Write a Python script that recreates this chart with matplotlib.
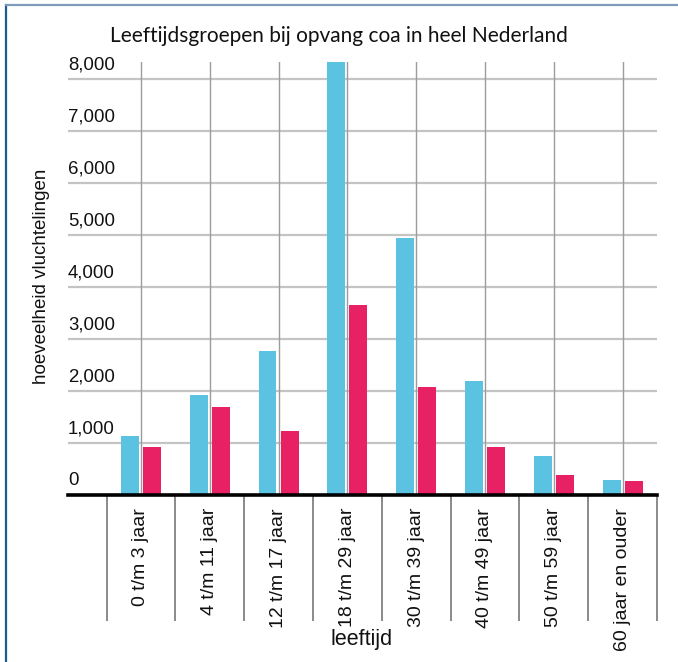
import numpy as np
import matplotlib
matplotlib.use('Agg')
import matplotlib.pyplot as plt
from matplotlib.lines import Line2D
import matplotlib.transforms as mtransforms

##### Data #####
age_groups = ['0 t/m 3 jaar', '4 t/m 11 jaar', '12 t/m 17 jaar', '18 t/m 29 jaar',
              '30 t/m 39 jaar', '40 t/m 49 jaar', '50 t/m 59 jaar', '60 jaar en ouder']
blue_values = [1140, 1925, 2770, 8500, 4940, 2195, 750, 290]
pink_values = [925, 1695, 1230, 3655, 2080, 925, 385, 270]
y_ticks = [0, 1000, 2000, 3000, 4000, 5000, 6000, 7000, 8000]
y_tick_labels = ['0', '1,000', '2,000', '3,000', '4,000', '5,000', '6,000', '7,000', '8,000']

blue = '#5bc3e1'
pink = '#e82064'
plt.rcParams['font.family'] = ['Liberation Sans', 'DejaVu Sans']

fig = plt.figure(figsize=(6.78, 6.62), dpi=100)
W, H = 678, 662
ax_left, ax_right, ax_top, ax_bottom = 68, 657, 62, 495
ax = fig.add_axes([ax_left / W, 1 - ax_bottom / H,
                   (ax_right - ax_left) / W, (ax_bottom - ax_top) / H])

x = np.arange(len(age_groups))
ax.set_xlim(-1.06, 7.5)
ax.set_ylim(0, 8330)

# grid lines
for t in y_ticks[1:]:
    ax.axhline(t, color='#c4c4c4', lw=1.6, zorder=1)
for xi in x:
    ax.axvline(xi, color='#9c9c9c', lw=1.0, zorder=1)

# bars
ax.bar(x - 0.16, blue_values, width=0.26, color=blue, zorder=2)
ax.bar(x + 0.16, pink_values, width=0.26, color=pink, zorder=2)

# baseline
ax.axhline(0, color='black', lw=2.6, zorder=3, clip_on=False)

for s in ax.spines.values():
    s.set_visible(False)
ax.set_xticks([])
ax.set_yticks([])

# y tick labels sit inside the plot, above the grid lines
trans_y = mtransforms.blended_transform_factory(ax.transAxes, ax.transData)
for t, lab in zip(y_ticks, y_tick_labels):
    ax.text(0.0, t + 110, lab, transform=trans_y, ha='left', va='bottom',
            fontsize=13.4, color='#111111')

# category separators below the axis + rotated labels
trans_x = mtransforms.blended_transform_factory(ax.transData, ax.transAxes)
for b in np.arange(len(age_groups) + 1) - 0.5:
    ax.plot([b, b], [0, -0.289], transform=trans_x, color='#8a8a8a', lw=1.4,
            clip_on=False, zorder=1)
for xi, lab in zip(x, age_groups):
    ax.text(xi, -0.03, lab, transform=trans_x, rotation=90, ha='center', va='top',
            fontsize=14, color='#111111')

# axis titles
fig.text(42 / W, 1 - 276 / H, 'hoeveelheid vluchtelingen', rotation=90,
         ha='center', va='center', fontsize=13.5, color='#111111')
fig.text(362 / W, 1 - 640 / H, 'leeftijd', ha='center', va='center',
         fontsize=15.5, color='#111111')
fig.text(339 / W, 1 - 36 / H, 'Leeftijdsgroepen bij opvang coa in heel Nederland',
         ha='center', va='center', fontsize=15, color='#111111',
         family=['Lato', 'DejaVu Sans'])

# frame edges
fig.add_artist(Line2D([6 / W, 6 / W], [0, 1 - 5 / H], color='#1d5a95', lw=1.6))
fig.add_artist(Line2D([6 / W, 1], [1 - 5 / H, 1 - 5 / H], color='#7f9cb8', lw=1.6))

fig.savefig('out.png', dpi=100)
